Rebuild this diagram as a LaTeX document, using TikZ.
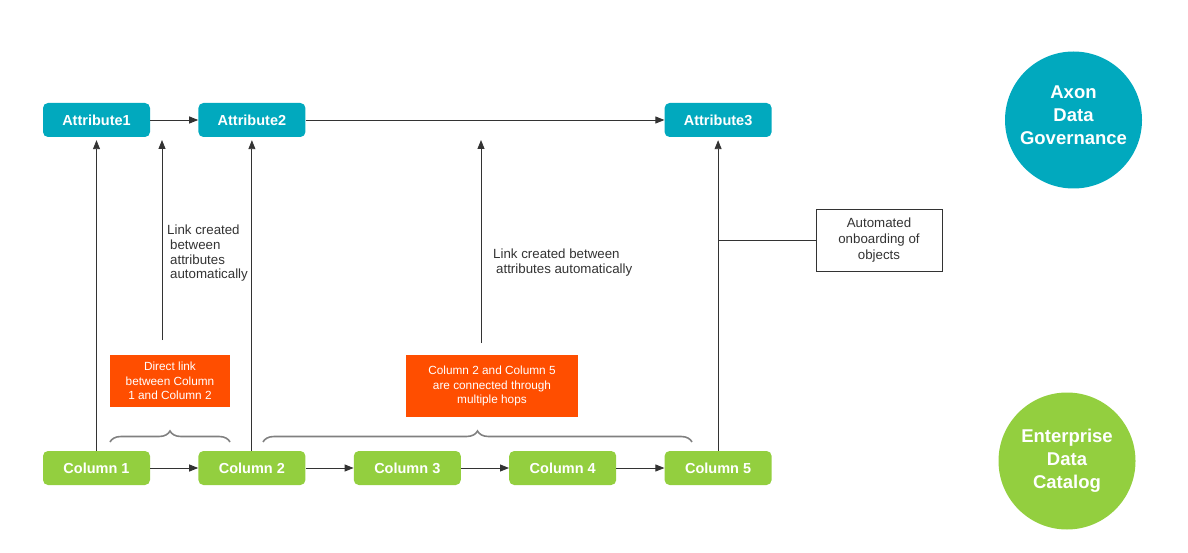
\documentclass[tikz,border=0pt]{standalone}
\usepackage{fontspec}
\setmainfont{Liberation Sans}
\usetikzlibrary{positioning,decorations.pathreplacing,arrows.meta}

\definecolor{axonteal}{RGB}{1,169,190}
\definecolor{edcgreen}{RGB}{147,207,63}
\definecolor{hoporange}{RGB}{255,78,0}
\definecolor{linegray}{RGB}{51,51,51}

\begin{document}
\begin{tikzpicture}[x=1pt, y=-1pt,
	attr/.style={rectangle, rounded corners=5pt, fill=axonteal, text=white, font=\fontsize{14.5}{17}\selectfont\bfseries, minimum width=107pt, minimum height=34pt, inner sep=0pt},
	column/.style={attr, fill=edcgreen},
	note/.style={rectangle, fill=hoporange, text=white, align=center, font=\fontsize{11.8}{14.3}\selectfont, inner sep=0pt},
	comment/.style={align=left, text=linegray, font=\fontsize{13.3}{14.7}\selectfont, inner sep=0pt},
	tool/.style={circle, text=white, align=center, minimum size=137pt, inner sep=0pt, font=\fontsize{18.5}{23}\selectfont\bfseries},
	link/.style={-{Triangle[length=9pt, width=7pt]}, draw=linegray, line width=0.9pt},
	hop/.style={decorate, decoration={brace, amplitude=11pt}, draw=gray, line width=1.6pt}
	]
	\useasboundingbox (0,0) rectangle (1188,553);

		\node (col1) [column] at (96.5,468) {Column 1};
		\node (col2) [column, right=48pt of col1] {Column 2};
		\node (col3) [column, right=48pt of col2] {Column 3};
		\node (col4) [column, right=48pt of col3] {Column 4};
		\node (col5) [column, right=48pt of col4] {Column 5};

		\node (attr1) [attr] at (col1 |- 0,120) {Attribute1};
		\node (attr2) [attr] at (col2 |- attr1) {Attribute2};
		\node (attr3) [attr] at (col5 |- attr1) {Attribute3};

		\node (axon) [tool, fill=axonteal, label={[text=white, align=center, yshift=5pt, font=\fontsize{18.5}{23}\selectfont\bfseries]center:Axon\\Data\\Governance}] at (1073.5,120) {};
		\node (edc) [tool, fill=edcgreen] at (1067,461) {Enterprise\\Data\\Catalog};

		\node (direct) [note, minimum width=120pt, minimum height=52pt] at (170,381) {Direct link\\between Column\\1 and Column 2};
		\node (multi) [note, minimum width=172pt, minimum height=62pt] at (492,386) {Column 2 and Column 5\\are connected through\\multiple hops};

		\node (linkA) [comment, anchor=north west] at (167,225) {Link created\\\hspace{3pt}between\\\hspace{3pt}attributes\\\hspace{3pt}automatically};
		\node (linkB) [comment, anchor=north west] at (493,249) {Link created between\\\hspace{3pt}attributes automatically};

		\node (onboard) [rectangle, draw=linegray, line width=0.9pt, align=center, text=linegray, font=\fontsize{13.3}{16}\selectfont, minimum width=126pt, minimum height=62pt, inner sep=0pt] at (879,240) {Automated\\onboarding of\\objects};

		\coordinate (linkAlow) at (162,340);
		\coordinate (linkAtop) at (162,140);
		\coordinate (linkBlow) at (481,343);
		\coordinate (linkBtop) at (481,140);
		\coordinate (tap) at (col5.north |- onboard.west);

	% attribute layer
	\draw [link] (attr1.east) -- (attr2.west);
	\draw [link] (attr2.east) -- (attr3.west);

	% column layer
	\draw [link] (col1.east) -- (col2.west);
	\draw [link] (col2.east) -- (col3.west);
	\draw [link] (col3.east) -- (col4.west);
	\draw [link] (col4.east) -- (col5.west);

	% lineage up to the attributes
	\draw [link, shorten >=3pt] (col1.north) -- (attr1.south);
	\draw [link, shorten >=3pt] (col2.north) -- (attr2.south);
	\draw [link, shorten >=3pt] (col5.north) -- (attr3.south);
	\draw [link] (linkAlow) -- (linkAtop);
	\draw [link] (linkBlow) -- (linkBtop);

	\draw [draw=linegray, line width=0.9pt] (tap) -- (onboard.west);

	% braces
	\draw [hop] (110,442) -- (230,442);
	\draw [hop] (263,442) -- (692,442);

	\end{tikzpicture}
\end{document}
